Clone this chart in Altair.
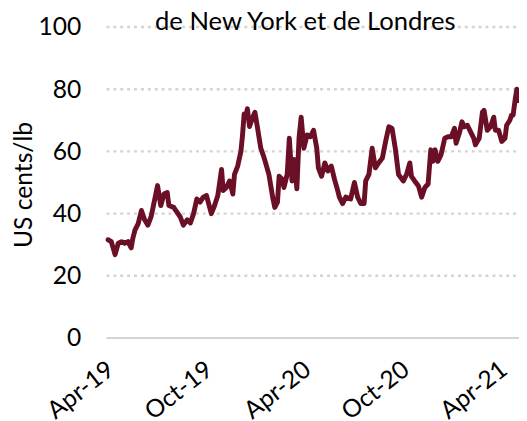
import altair as alt
import pandas as pd

dates = [
    "2019-04-01", "2019-04-07", "2019-04-14", "2019-04-20", "2019-04-26", "2019-05-02",
    "2019-05-08", "2019-05-14", "2019-05-17", "2019-05-21", "2019-05-27", "2019-06-02",
    "2019-06-08", "2019-06-14", "2019-06-20", "2019-06-26", "2019-07-02", "2019-07-08",
    "2019-07-14", "2019-07-20", "2019-07-23", "2019-08-01", "2019-08-07", "2019-08-13",
    "2019-08-19", "2019-08-26", "2019-09-01", "2019-09-07", "2019-09-13", "2019-09-19",
    "2019-09-25", "2019-10-01", "2019-10-10", "2019-10-16", "2019-10-22", "2019-10-29",
    "2019-11-01", "2019-11-07", "2019-11-13", "2019-11-19", "2019-11-22", "2019-11-28",
    "2019-12-04", "2019-12-07", "2019-12-10", "2019-12-13", "2019-12-16", "2019-12-20",
    "2019-12-25", "2019-12-30", "2020-01-04", "2020-01-10", "2020-01-16", "2020-01-25",
    "2020-02-01", "2020-02-05", "2020-02-10", "2020-02-13", "2020-02-19", "2020-02-22",
    "2020-02-28", "2020-03-03", "2020-03-08", "2020-03-12", "2020-03-17", "2020-03-21",
    "2020-03-25", "2020-03-30", "2020-04-05", "2020-04-11", "2020-04-17",
    "2020-04-23", "2020-04-26", "2020-05-02", "2020-05-08", "2020-05-14", "2020-05-20",
    "2020-05-26", "2020-06-01", "2020-06-04", "2020-06-10", "2020-06-16", "2020-06-25",
    "2020-07-02", "2020-07-08", "2020-07-14", "2020-07-20", "2020-07-23", "2020-07-29",
    "2020-08-04", "2020-08-10", "2020-08-16", "2020-08-23", "2020-08-29", "2020-09-04",
    "2020-09-10", "2020-09-16", "2020-09-22", "2020-10-01", "2020-10-07", "2020-10-13",
    "2020-10-16", "2020-10-22", "2020-10-29", "2020-11-04", "2020-11-10", "2020-11-16",
    "2020-11-21", "2020-11-25", "2020-11-29", "2020-12-04", "2020-12-10", "2020-12-17",
    "2020-12-23", "2020-12-29", "2021-01-04", "2021-01-07", "2021-01-13", "2021-01-18",
    "2021-01-22", "2021-01-28", "2021-02-03", "2021-02-09", "2021-02-12", "2021-02-19",
    "2021-02-25", "2021-02-28", "2021-03-06", "2021-03-12", "2021-03-18", "2021-03-21",
    "2021-03-27", "2021-04-02", "2021-04-08", "2021-04-11", "2021-04-17", "2021-04-20",
    "2021-04-23", "2021-04-27", "2021-04-30", "2021-05-03",
]
prices = [
    31.6, 31.0, 26.8, 30.5, 31.0, 30.5,
    31.0, 29.0, 32.0, 34.7, 36.8, 41.0,
    38.0, 36.3, 39.0, 44.0, 49.0, 42.6,
    46.3, 46.8, 42.6, 42.0, 40.5, 39.0,
    36.3, 38.0, 37.0, 40.0, 44.7, 43.7,
    45.3, 45.8, 40.0, 42.6, 45.8, 54.2,
    47.4, 48.4, 50.5, 46.3, 52.6, 55.3,
    60.0, 65.3, 72.0, 71.0, 73.7, 68.0,
    70.5, 72.6, 67.4, 61.0, 58.0, 52.6,
    45.3, 42.0, 43.7, 52.0, 51.0, 48.4,
    52.6, 64.2, 50.5, 57.4, 48.0, 64.2,
    71.0, 61.0, 65.3, 64.7, 66.8,
    61.0, 54.7, 52.0, 56.3, 53.7, 55.3,
    51.0, 47.4, 45.3, 43.2, 45.3, 44.7,
    50.0, 45.3, 43.2, 43.2, 50.5, 52.6,
    61.0, 54.7, 56.3, 57.9, 63.2, 67.9,
    67.4, 61.0, 52.6, 50.5, 52.6, 56.3,
    52.0, 50.5, 48.9, 45.3, 48.4, 49.5,
    60.5, 56.8, 60.5, 56.8, 58.9, 64.2,
    64.7, 64.7, 67.4, 62.6, 65.8, 69.5,
    67.9, 68.4, 66.3, 64.2, 62.1, 64.2,
    72.6, 73.2, 66.8, 67.9, 71.0, 66.8,
    66.8, 63.2, 64.2, 68.4, 70.0, 71.6,
    71.6, 76.8, 80.0, 76.3,
]
tick_dates = ["2019-04-01", "2019-10-01", "2020-04-01", "2020-10-01", "2021-04-01"]
y_ticks = [0, 20, 40, 60, 80, 100]
grid_values = [20, 40, 60, 80, 100]
x_domain = ["2019-03-29", "2021-05-04"]
title_line = "de New York et de Londres"
y_title = "US cents/lb"

df = pd.DataFrame({"date": pd.to_datetime(dates), "price": prices})
FONT = "Lato"
PLOT_W = 419

y_scale = alt.Scale(domain=[0, 100], nice=False)
y_axis = alt.Axis(
    values=y_ticks,
    labelFontSize=25,
    labelFont=FONT,
    labelColor="#000000",
    labelPadding=26,
    ticks=False,
    domain=False,
    grid=False,
    title=y_title,
    titleFont=FONT,
    titleFontSize=25,
    titleFontWeight="normal",
    titleColor="#000000",
    titleAngle=-90,
    titleAlign="center",
    titleBaseline="middle",
    titleX=-84,
    titleY=160,
)

grid = alt.Chart(pd.DataFrame({"price": grid_values})).mark_rule(
    color="#D4D4D4", strokeWidth=2.5, strokeDash=[3, 4]
).encode(
    y=alt.Y("price:Q", scale=y_scale, axis=y_axis),
    x=alt.value(0),
    x2=alt.value(PLOT_W),
)

zero = alt.Chart(pd.DataFrame({"price": [0]})).mark_rule(
    color="#D4D4D4", strokeWidth=2
).encode(
    y=alt.Y("price:Q", scale=y_scale, axis=y_axis),
    x=alt.value(0),
    x2=alt.value(PLOT_W),
)

line = alt.Chart(df).mark_line(
    color="#6A0F26", strokeWidth=5, strokeJoin="round", strokeCap="round"
).encode(
    x=alt.X(
        "date:T",
        scale=alt.Scale(domain=x_domain),
        axis=alt.Axis(
            values=[pd.Timestamp(d).isoformat() for d in tick_dates],
            format="%b-%y",
            labelAngle=-38,
            labelAlign="right",
            labelBaseline="top",
            labelPadding=19,
            labelOffset=-5,
            labelFontSize=25,
            labelFont=FONT,
            labelColor="#000000",
            ticks=False,
            grid=False,
            domain=False,
            title=None,
            labelOverlap=False,
        ),
    ),
    y=alt.Y("price:Q", scale=y_scale, axis=y_axis),
)

title = alt.Chart(pd.DataFrame({"t": [title_line]})).mark_text(
    font=FONT, fontSize=26, color="#000000", align="center", baseline="alphabetic"
).encode(text="t:N", x=alt.value(202), y=alt.value(3))

chart = alt.layer(grid, zero, line, title).properties(
    width=PLOT_W,
    height=316,
    autosize=alt.AutoSizeParams(type="none"),
    padding={"left": 100, "top": 16, "right": 0, "bottom": 81},
).configure_view(stroke=None)

chart.save("out.html", embed_options={"renderer": "svg", "actions": False})
